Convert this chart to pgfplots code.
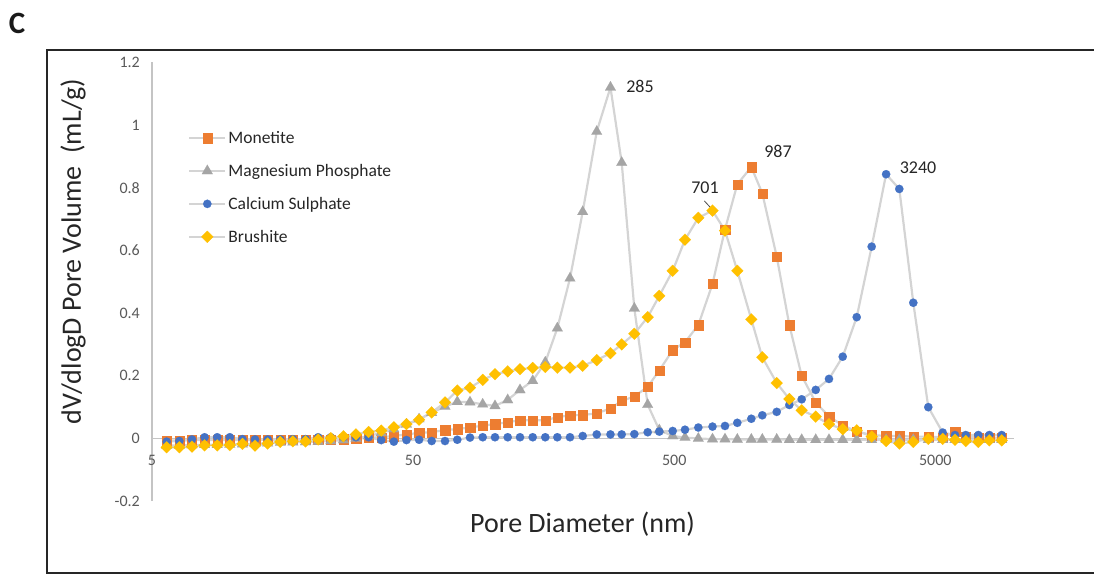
\documentclass[border=0pt]{standalone}
\usepackage{fontspec}
\setmainfont{Carlito}
\usepackage{pgfplots}
\pgfplotsset{compat=1.18}
\usepackage{pgfplotstable}

\definecolor{monetite}{RGB}{237,125,49}
\definecolor{mgphos}{RGB}{165,165,165}
\definecolor{casulph}{RGB}{68,114,196}
\definecolor{brushite}{RGB}{255,192,0}
\definecolor{joinline}{RGB}{212,212,212}
\definecolor{axisgray}{RGB}{196,196,196}
\definecolor{ticktext}{RGB}{89,89,89}

% Pore size distribution (dV/dlogD, mL/g) against pore diameter (nm)
\pgfplotstableread{
x      mon     mgp     cas     bru
5.692  -0.006  -0.022  -0.010  -0.028
6.362  -0.006  -0.022  -0.008  -0.028
7.112  -0.005  -0.021  -0.003  -0.026
7.951  -0.005  -0.020   0.004  -0.022
8.885  -0.005  -0.020   0.004  -0.022
9.932  -0.005  -0.019   0.004  -0.021
11.10  -0.005  -0.018  -0.002  -0.017
12.40  -0.005  -0.017  -0.003  -0.023
13.87  -0.004  -0.015  -0.003  -0.016
15.50  -0.004  -0.013  -0.003  -0.011
17.32  -0.004  -0.012  -0.002  -0.009
19.36  -0.004  -0.011  -0.002  -0.009
21.64  -0.004  -0.010   0.004  -0.003
24.19  -0.003  -0.008   0.004   0.001
27.04  -0.002  -0.005   0.004   0.007
30.21   0.000   0.000   0.004   0.013
33.77   0.002   0.008   0.004   0.021
37.75   0.004   0.018  -0.005   0.025
42.19   0.008   0.030  -0.010   0.036
47.16   0.013   0.045  -0.005   0.046
52.71   0.018   0.062  -0.004   0.060
58.91   0.020   0.082  -0.008   0.083
66.25   0.027   0.102  -0.008   0.115
73.83   0.030   0.117  -0.004   0.153
82.58   0.035   0.116   0.003   0.162
92.37   0.041   0.109   0.004   0.187
102.95  0.046   0.104   0.004   0.205
115.15  0.052   0.123   0.004   0.214
128.35  0.058   0.155   0.004   0.221
143.56  0.058   0.184   0.004   0.225
160.4   0.058   0.243   0.004   0.228
178.4   0.068   0.352   0.004   0.226
199.5   0.074   0.511   0.004   0.226
223.1   0.075   0.723   0.008   0.232
252.5   0.080   0.979   0.013   0.250
285     0.096   1.120   0.013   0.272
314.7   0.120   0.880   0.013   0.300
351.8   0.134   0.415   0.014   0.334
395.8   0.165   0.108   0.020   0.387
438.4   0.217   0.027   0.022   0.455
493.4   0.282   0.008   0.024   0.535
549.9   0.307   0.003   0.028   0.634
618.5   0.362   0.000   0.035   0.704
701     0.493  -0.002   0.038   0.727
782.6   0.667  -0.002   0.040   0.663
872.2   0.811  -0.003   0.050   0.535
987     0.866  -0.003   0.063   0.380
1087.5  0.782  -0.003   0.074   0.259
1235    0.580  -0.003   0.085   0.177
1380    0.362  -0.004   0.107   0.126
1539    0.200  -0.004   0.125   0.090
1742    0.115  -0.004   0.155   0.070
1958    0.070  -0.004   0.190   0.046
2210    0.042  -0.004   0.261   0.030
2500    0.022  -0.004   0.387   0.026
2853    0.011  -0.004   0.612   0.006
3240    0.008  -0.004   0.843  -0.008
3640    0.008  -0.004   0.796  -0.016
4118    0.006  -0.004   0.433  -0.011
4700    0.006  -0.004   0.100  -0.001
5337    0.004  -0.004   0.019  -0.001
5948    0.021  -0.004   0.011  -0.004
6540    0.006  -0.004   0.011  -0.008
7306    0.004  -0.004   0.011  -0.011
8051    0.003  -0.004   0.011  -0.006
8980    0.002  -0.004   0.011  -0.006
}\poredata

\begin{document}
\begin{tikzpicture}[x=1pt,y=1pt]
\useasboundingbox (0,0) rectangle (1094,575);
% chart frame
\draw[line width=2.6pt, black!85] (1094,525) -- (47,525) -- (47,2) -- (1094,2);
\node[font=\fontsize{31}{34}\selectfont\bfseries, text=black!90] at (17,552) {C};

\begin{axis}[
  at={(152pt,73.8pt)}, anchor=south west,
  scale only axis, width=861.9pt, height=438.9pt,
  xmode=log, xmin=5, xmax=10000,
  ymin=-0.2, ymax=1.2,
  clip=false,
  axis x line*=middle, axis y line*=left,
  hide obscured x ticks=false, hide obscured y ticks=false,
  axis line style={axisgray, line width=1.4pt},
  major tick length=0pt, minor tick length=0pt,
  tick style={draw=none},
  xtick={5,50,500,5000}, xticklabels={5,50,500,5000},
  ytick={-0.2,0,0.2,0.4,0.6,0.8,1,1.2},
  yticklabels={-0.2,0,0.2,0.4,0.6,0.8,1,1.2},
  tick label style={font=\fontsize{16}{19}\selectfont, text=ticktext},
  xticklabel style={yshift=-13.5pt},
  yticklabel style={xshift=-8.7pt},
  xlabel={Pore Diameter (nm)},
  ylabel={dV/dlogD Pore Volume~~(mL/g)},
  every axis x label/.style={at={(axis description cs:0.4995,-0.052)}, anchor=center,
    font=\fontsize{28}{32}\selectfont, text=black!85},
  every axis y label/.style={at={(axis description cs:-0.0917,0.569)}, anchor=center,
    rotate=90, font=\fontsize{28}{32}\selectfont, text=black!85},
  legend cell align=left,
  legend style={at={(0.0383,0.8526)}, anchor=north west, draw=none, fill=none,
    font=\fontsize{17.5}{20}\selectfont, text=black!85, row sep=15.3pt},
  legend image code/.code={\draw[mark repeat=2,mark phase=2]
    plot coordinates {(0pt,0pt) (18pt,0pt) (36pt,0pt)};},
  every axis plot/.append style={joinline, line width=2.2pt},
]
\addplot[mark=square*, mark size=4.6pt,
  mark options={solid, line width=0.1pt, draw=monetite, fill=monetite}]
  table[x=x, y=mon]{\poredata};
\addlegendentry{Monetite}
\addplot[mark=triangle*, mark size=6.2pt,
  mark options={solid, line width=0.1pt, draw=mgphos, fill=mgphos}]
  table[x=x, y=mgp]{\poredata};
\addlegendentry{Magnesium Phosphate}
\addplot[mark=*, mark size=4.2pt,
  mark options={solid, line width=0.1pt, draw=casulph, fill=casulph}]
  table[x=x, y=cas]{\poredata};
\addlegendentry{Calcium Sulphate}
\addplot[mark=square*, mark size=4.2pt,
  mark options={solid, rotate=45, line width=0.1pt, draw=brushite, fill=brushite}]
  table[x=x, y=bru]{\poredata};
\addlegendentry{Brushite}

% peak labels
\node[font=\fontsize{18}{21}\selectfont, text=black!85]
  at ([shift={(29.5pt,1.4pt)}]axis cs:285,1.12) {285};
\node[font=\fontsize{18}{21}\selectfont, text=black!85]
  at ([shift={(26.7pt,16pt)}]axis cs:987,0.866) {987};
\node[font=\fontsize{18}{21}\selectfont, text=black!85]
  at ([shift={(-7.5pt,22.7pt)}]axis cs:701,0.727) {701};
\draw[black!70, line width=0.8pt]
  ([shift={(-8.2pt,9.7pt)}]axis cs:701,0.727) -- ([shift={(-2pt,3pt)}]axis cs:701,0.727);
\node[font=\fontsize{18}{21}\selectfont, text=black!85]
  at ([shift={(32pt,6pt)}]axis cs:3240,0.843) {3240};
\end{axis}
\end{tikzpicture}
\end{document}
